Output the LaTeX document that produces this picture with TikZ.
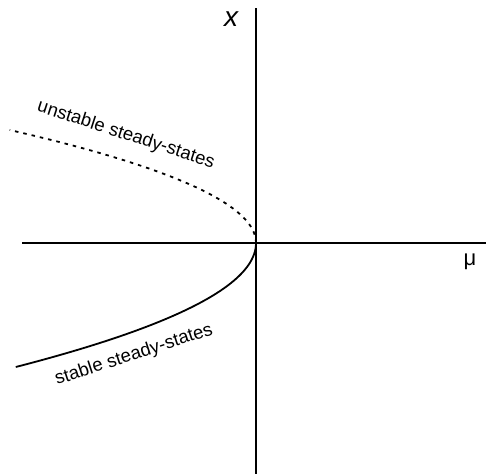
\documentclass[tikz,border=0pt]{standalone}
\usepackage{fontspec}
\setmainfont{Liberation Sans}
\begin{document}
\begin{tikzpicture}[x=1pt,y=-1pt,
  axis/.style={line width=2pt},
  branch/.style={line width=1.8pt},
  dotbranch/.style={line width=1.8pt, dash pattern=on 3.5pt off 5pt},
  curvelabel/.style={font=\fontsize{18.5}{22}\selectfont, inner sep=0pt},
  axislabel/.style={inner sep=0pt}]
\useasboundingbox (0,0) rectangle (486,474);
\coordinate (o) at (256,243);
\coordinate (ytop) at (256,8);
\coordinate (ybot) at (256,474);
\coordinate (xl) at (22,243);
\coordinate (xr) at (486,243);
\draw[axis] (ytop) -- (ybot);
\draw[axis] (xl) -- (xr);
\draw[branch] (o) plot[domain=0:124, samples=80] ({256-(\x/8)^2}, {243+\x});
\draw[dotbranch] (o) plot[domain=0:113, samples=80] ({256-(\x/7.2)^2}, {243-\x});
\node[axislabel, font=\fontsize{28}{30}\selectfont\itshape] (xlab) at (231,19) {x};
\node[axislabel, font=\fontsize{22}{24}\selectfont] (mulab) at (470,262) {μ};
\node[curvelabel, rotate=-18] (unst) at (126,135) {unstable steady-states};
\node[curvelabel, rotate=18] (st) at (134,355) {stable steady-states};
\end{tikzpicture}
\end{document}
